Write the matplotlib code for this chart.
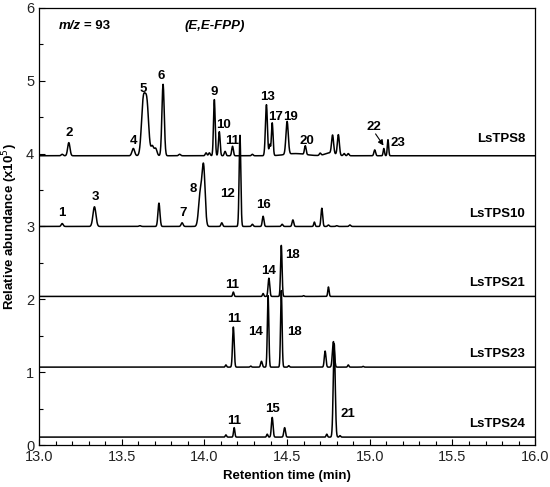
import matplotlib
matplotlib.use("Agg")
import matplotlib.pyplot as plt
from matplotlib.ticker import MultipleLocator
import numpy as np

plt.rcParams['font.family'] = ['Liberation Sans', 'DejaVu Sans']

# samples, their baselines and label heights
samples = ["LsTPS8", "LsTPS10", "LsTPS21", "LsTPS23", "LsTPS24"]
baselines = [3.97, 3.0, 2.04, 1.07, 0.11]
sample_label_y = [4.2, 3.17, 2.22, 1.25, 0.29]

# peaks: retention time (min), height above baseline, width (sigma)
tps8_rt = [13.14, 13.18, 13.57, 13.63, 13.652, 13.685, 13.705, 13.75, 13.85, 14.01, 14.03,
           14.06, 14.09, 14.125, 14.17, 14.29, 14.375, 14.395, 14.41, 14.50, 14.55, 14.61,
           14.70, 14.76, 14.775, 14.81, 14.845, 14.87, 15.03, 15.085, 15.11]
tps8_h = [0.02, 0.18, 0.10, 0.72, 0.70, 0.13, 0.10, 0.98, 0.02, 0.04, 0.04,
          0.77, 0.33, 0.06, 0.13, 0.02, 0.70, 0.15, 0.45, 0.45, 0.03, 0.12,
          0.03, 0.04, 0.25, 0.28, 0.03, 0.03, 0.08, 0.10, 0.22]
tps8_w = [0.006, 0.007, 0.008, 0.011, 0.011, 0.008, 0.008, 0.007, 0.006, 0.005, 0.005,
          0.005, 0.005, 0.005, 0.005, 0.005, 0.006, 0.004, 0.005, 0.007, 0.06, 0.005,
          0.005, 0.03, 0.006, 0.006, 0.005, 0.005, 0.005, 0.004, 0.004]

tps10_rt = [13.14, 13.335, 13.61, 13.725, 13.865, 13.975, 13.995, 14.105, 14.215, 14.29,
            14.355, 14.47, 14.535, 14.665, 14.71, 14.75, 14.80, 14.88]
tps10_h = [0.04, 0.27, 0.01, 0.32, 0.05, 0.45, 0.80, 0.05, 1.25, 0.03,
           0.14, 0.03, 0.09, 0.06, 0.25, 0.02, 0.01, 0.02]
tps10_w = [0.006, 0.009, 0.006, 0.006, 0.006, 0.010, 0.009, 0.005, 0.005, 0.005,
           0.005, 0.005, 0.005, 0.004, 0.005, 0.005, 0.005, 0.005]

tps21_rt = [14.175, 14.355, 14.39, 14.465, 14.60, 14.75]
tps21_h = [0.06, 0.04, 0.25, 0.70, 0.01, 0.13]
tps21_w = [0.004, 0.004, 0.005, 0.0045, 0.004, 0.004]

tps23_rt = [14.13, 14.175, 14.28, 14.345, 14.385, 14.465, 14.51, 14.73, 14.78, 14.87, 14.96]
tps23_h = [0.03, 0.55, 0.015, 0.08, 0.98, 1.05, 0.02, 0.22, 0.35, 0.03, 0.01]
tps23_w = [0.004, 0.005, 0.004, 0.005, 0.0045, 0.0045, 0.004, 0.005, 0.006, 0.004, 0.004]

tps24_rt = [14.13, 14.18, 14.38, 14.41, 14.485, 14.74, 14.785, 14.82]
tps24_h = [0.03, 0.13, 0.04, 0.27, 0.13, 0.04, 1.28, 0.02]
tps24_w = [0.004, 0.004, 0.004, 0.005, 0.005, 0.004, 0.006, 0.004]

peak_rt = [tps8_rt, tps10_rt, tps21_rt, tps23_rt, tps24_rt]
peak_h = [tps8_h, tps10_h, tps21_h, tps23_h, tps24_h]
peak_w = [tps8_w, tps10_w, tps21_w, tps23_w, tps24_w]

# peak numbers: text, x, y
num_text = ["2", "4", "5", "6", "9", "10", "11", "13", "17", "19", "20", "23",
            "1", "3", "7", "8", "12", "16",
            "11", "14", "18",
            "11", "14", "18",
            "11", "15", "21"]
num_x = [13.18, 13.57, 13.63, 13.74, 14.06, 14.115, 14.17, 14.38, 14.43, 14.52, 14.62, 15.17,
         13.14, 13.34, 13.87, 13.935, 14.14, 14.36,
         14.17, 14.39, 14.53,
         14.18, 14.31, 14.545,
         14.18, 14.41, 14.865]
num_y = [4.28, 4.17, 4.88, 5.07, 4.85, 4.39, 4.17, 4.78, 4.5, 4.5, 4.17, 4.14,
         3.18, 3.41, 3.19, 3.52, 3.44, 3.29,
         2.2, 2.39, 2.61,
         1.73, 1.55, 1.55,
         0.33, 0.5, 0.43]

t = np.linspace(13.0, 16.0, 3001)

fig = plt.figure(figsize=(5.5, 4.87), dpi=100)
ax = fig.add_axes([0.071, 0.086, 0.902, 0.898])

for i, name in enumerate(samples):
    y = np.full_like(t, baselines[i])
    for rt, h, w in zip(peak_rt[i], peak_h[i], peak_w[i]):
        y += h * np.exp(-0.5 * ((t - rt) / w) ** 2)
    ax.plot(t, y, color='black', lw=1.1)
    ax.text(15.94, sample_label_y[i], name, ha='right', va='center',
            fontsize=9.5, fontweight='bold')

for s, x, y in zip(num_text, num_x, num_y):
    ax.text(x, y, s, ha='center', va='center', fontsize=9.5, fontweight='bold')

# peak 22 with its little arrow
ax.text(15.025, 4.36, '22', ha='center', va='center', fontsize=9.5, fontweight='bold')
ax.annotate('', xy=(15.083, 4.11), xytext=(15.035, 4.27),
            arrowprops=dict(arrowstyle='-|>', color='black', lw=0.8,
                            shrinkA=0, shrinkB=0, mutation_scale=8))

ax.text(13.12, 5.75, 'm/z', ha='left', va='center', fontsize=9.5,
        fontweight='bold', style='italic')
ax.text(13.27, 5.75, '= 93', ha='left', va='center', fontsize=9.5, fontweight='bold')
ax.text(14.06, 5.75, '(E,E-FPP)', ha='center', va='center', fontsize=9.5,
        fontweight='bold', style='italic')

ax.set_xlim(13.0, 16.0)
ax.set_ylim(0, 6)
ax.xaxis.set_major_locator(MultipleLocator(0.5))
ax.xaxis.set_minor_locator(MultipleLocator(0.1))
ax.yaxis.set_major_locator(MultipleLocator(1))
ax.yaxis.set_minor_locator(MultipleLocator(0.5))
ax.xaxis.set_major_formatter(plt.FormatStrFormatter('%.1f'))
ax.tick_params(which='both', direction='in', labelsize=10.5, width=0.8,
               labelcolor='#222222')
ax.tick_params(which='major', length=4)
ax.tick_params(which='minor', length=3)
for sp in ax.spines.values():
    sp.set_linewidth(0.9)

ax.set_xlabel('Retention time (min)', fontsize=9.5, fontweight='bold', labelpad=4)
ax.set_ylabel('Relative abundance (x10$^{5}$)', fontsize=9.5, fontweight='bold', labelpad=4)

fig.savefig('out.png', dpi=100)
